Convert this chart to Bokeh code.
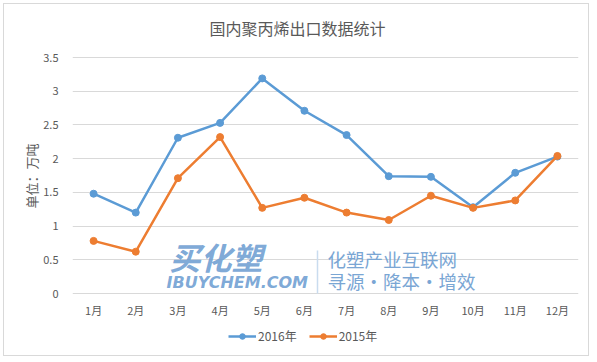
from bokeh.plotting import figure
from bokeh.models import FixedTicker, Legend, LegendItem, Label, Range1d, Title
from bokeh.embed import file_html
from bokeh.resources import INLINE

months = ["1月", "2月", "3月", "4月", "5月", "6月", "7月", "8月", "9月", "10月", "11月", "12月"]
series_2016 = [1.48, 1.20, 2.31, 2.53, 3.19, 2.71, 2.35, 1.74, 1.73, 1.28, 1.79, 2.03]
series_2015 = [0.78, 0.62, 1.71, 2.32, 1.27, 1.42, 1.20, 1.09, 1.45, 1.27, 1.38, 2.04]
y_ticks = [0, 0.5, 1, 1.5, 2, 2.5, 3, 3.5]
y_tick_labels = ["0", "0.5", "1", "1.5", "2", "2.5", "3", "3.5"]
title_text = "国内聚丙烯出口数据统计"
y_label = "单位：万吨"
legend_labels = ["2016年", "2015年"]

FONT = "Noto Sans CJK SC"
GRAY = "#595959"
BLUE = "#5B9BD5"
ORANGE = "#ED7D31"
WM = "#6E9ED2"

# page-pixel layout: value 0 at FY0, 3.5 at FY1; frame spans FT..FB vertically
FX0, FX1, FY0, FY1, FT, FB = 72.0, 578.0, 293.0, 57.0, 4.0, 350.0
PX_PER_UNIT = (FY0 - FY1) / 3.5
y_start = -(FB - FY0) / PX_PER_UNIT
y_end = 3.5 + (FY1 - FT) / PX_PER_UNIT

x = list(range(len(months)))

p = figure(width=586, height=353, output_backend="svg", toolbar_location=None,
           x_range=Range1d(-0.5, len(months) - 0.5), y_range=Range1d(y_start, y_end),
           min_border_left=68, min_border_right=12, min_border_top=0, min_border_bottom=7)
p.title = None
p.styles = {"border": "1px solid #d9d9d9", "margin": "3px 0 0 3px"}
p.outline_line_color = None

def dx(px):
    return -0.5 + (px - FX0) / (FX1 - FX0) * len(months)
def dy(py):
    return (FY0 - py) / PX_PER_UNIT

# chart title
p.add_layout(Label(x=dx(297), y=dy(27.5), text=title_text, text_align="center", text_baseline="middle",
                   text_font=FONT, text_font_size="16px", text_color=GRAY))

# x axis hidden; month labels drawn as text at value 0
p.xaxis.visible = False
p.text(x=x, y=[0] * len(months), text=months, text_align="center", text_baseline="middle",
       y_offset=16, text_font_size="11px", text_color=GRAY, text_font={"value": FONT})

p.yaxis.ticker = FixedTicker(ticks=y_ticks)
p.yaxis.major_label_overrides = {t: s for t, s in zip(y_ticks, y_tick_labels)}
p.yaxis.axis_line_color = None
p.yaxis.major_tick_line_color = None
p.yaxis.minor_tick_line_color = None
p.yaxis.major_label_standoff = 8
p.yaxis.major_label_text_font = FONT
p.yaxis.major_label_text_font_size = "11px"
p.yaxis.major_label_text_color = GRAY

p.add_layout(Title(text=y_label, align="left", vertical_align="bottom", offset=142, standoff=0,
                   text_font=FONT, text_font_size="13px", text_font_style="normal",
                   text_color=GRAY), "left")

p.xgrid.grid_line_color = None
p.ygrid.grid_line_color = "#d9d9d9"
p.ygrid.ticker = FixedTicker(ticks=y_ticks)

# watermark
p.add_layout(Label(x=dx(169), y=dy(278), text="买化塑", text_font=FONT, text_font_size="31px",
                   text_font_style="bold italic", text_color=WM, text_baseline="bottom", text_alpha=0.9))
p.add_layout(Label(x=dx(166), y=dy(291), text="IBUYCHEM.COM", text_font="DejaVu Sans", text_font_size="16px",
                   text_font_style="bold italic", text_color=WM, text_baseline="bottom", text_alpha=0.9))
p.segment(x0=[dx(317)], y0=[dy(293)], x1=[dx(317)], y1=[dy(250)], line_color="#c9dcef", line_width=1.5)
p.add_layout(Label(x=dx(327), y=dy(271), text="化塑产业互联网", text_font=FONT, text_font_size="18.5px",
                   text_color="#7AA6D4", text_baseline="bottom"))
p.add_layout(Label(x=dx(327), y=dy(293), text="寻源·降本·增效", text_font=FONT, text_font_size="18.5px",
                   text_color="#7AA6D4", text_baseline="bottom"))

l1 = p.line(x, series_2016, line_color=BLUE, line_width=2.5)
c1 = p.scatter(x, series_2016, size=7, fill_color=BLUE, line_color=BLUE)
l2 = p.line(x, series_2015, line_color=ORANGE, line_width=2.5)
c2 = p.scatter(x, series_2015, size=7, fill_color=ORANGE, line_color=ORANGE)

legend = Legend(items=[LegendItem(label=legend_labels[0], renderers=[l1, c1]),
                       LegendItem(label=legend_labels[1], renderers=[l2, c2])],
                orientation="horizontal", location=(156, 6), padding=0, margin=0, spacing=12,
                glyph_width=28, glyph_height=14, label_standoff=2,
                label_text_font=FONT, label_text_font_size="12px", label_text_color=GRAY,
                border_line_color=None, background_fill_alpha=0)
p.add_layout(legend, "center")

open("out.html", "w").write(file_html(p, INLINE))
